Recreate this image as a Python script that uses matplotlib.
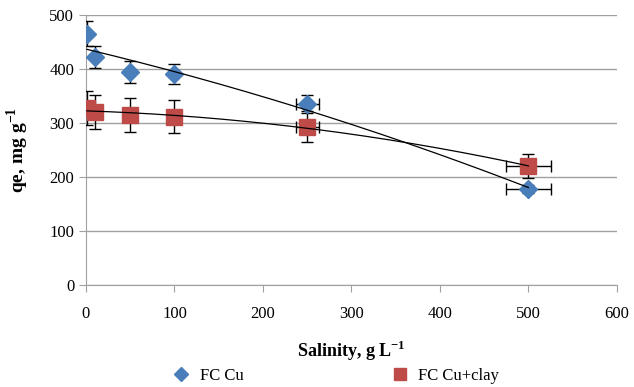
import numpy as np
import matplotlib
matplotlib.use("Agg")
import matplotlib.pyplot as plt

plt.rcParams['font.family'] = ['Liberation Serif', 'DejaVu Serif']
plt.rcParams['mathtext.fontset'] = 'custom'
plt.rcParams['mathtext.rm'] = 'Liberation Serif'
plt.rcParams['mathtext.bf'] = 'Liberation Serif:bold'

# data
salinity = [1, 10, 50, 100, 250, 500]
qe_cu = [465, 422, 394, 391, 335, 178]
err_cu = [23, 21, 20, 19, 17, 8]
qe_clay = [328, 320, 315, 312, 293, 220]
err_clay = [32, 32, 31, 31, 29, 22]
xerr = [0, 0, 0, 0, 13, 25]

blue = '#4A7EBB'
red = '#BE4B48'

fig = plt.figure(figsize=(6.34, 3.87), dpi=100)
ax = fig.add_axes([0.1356, 0.2636, 0.8374, 0.6977])

ax.errorbar(salinity, qe_cu, yerr=err_cu, xerr=xerr, fmt='D', color=blue,
            ms=9, ecolor='black', elinewidth=1, capsize=4, capthick=1,
            label='FC Cu', zorder=3)
ax.errorbar(salinity, qe_clay, yerr=err_clay, xerr=xerr, fmt='s', color=red,
            ms=11, ecolor='black', elinewidth=1, capsize=4, capthick=1,
            label='FC Cu+clay', zorder=3)

# trend lines
xs = np.linspace(min(salinity), max(salinity), 200)
p1 = np.polyfit(salinity, qe_cu, 2)
p2 = np.polyfit(salinity, qe_clay, 2)
ax.plot(xs, np.polyval(p1, xs), color='black', lw=0.9, zorder=4)
ax.plot(xs, np.polyval(p2, xs), color='black', lw=0.9, zorder=4)

ax.set_xlim(0, 600)
ax.set_ylim(0, 500)
ax.set_xticks(range(0, 601, 100))
ax.set_yticks(range(0, 501, 100))
ax.yaxis.grid(True, color='#A0A0A0', lw=1)
ax.set_axisbelow(True)
for s in ['top', 'right']:
    ax.spines[s].set_visible(False)
for s in ['left', 'bottom']:
    ax.spines[s].set_color('#A0A0A0')
ax.tick_params(axis='both', colors='#A0A0A0', labelcolor='black', labelsize=12,
               length=5, direction='out')
ax.tick_params(axis='x', pad=10)

ax.set_xlabel(r'Salinity, g L$^{\mathbf{-1}}$', fontsize=13, fontweight='bold', labelpad=12)
ax.set_ylabel(r'qe, mg g$^{\mathbf{-1}}$', fontsize=14, fontweight='bold', labelpad=13)

h, l = ax.get_legend_handles_labels()
h = [hh[0] for hh in h]
fig.legend(h, l, loc='center', bbox_to_anchor=(0.53, 0.028), ncol=2, frameon=False,
           fontsize=12, columnspacing=8.9, handlelength=1.0, handletextpad=0.6,
           markerscale=0.8)

fig.savefig('out.png', dpi=100)
